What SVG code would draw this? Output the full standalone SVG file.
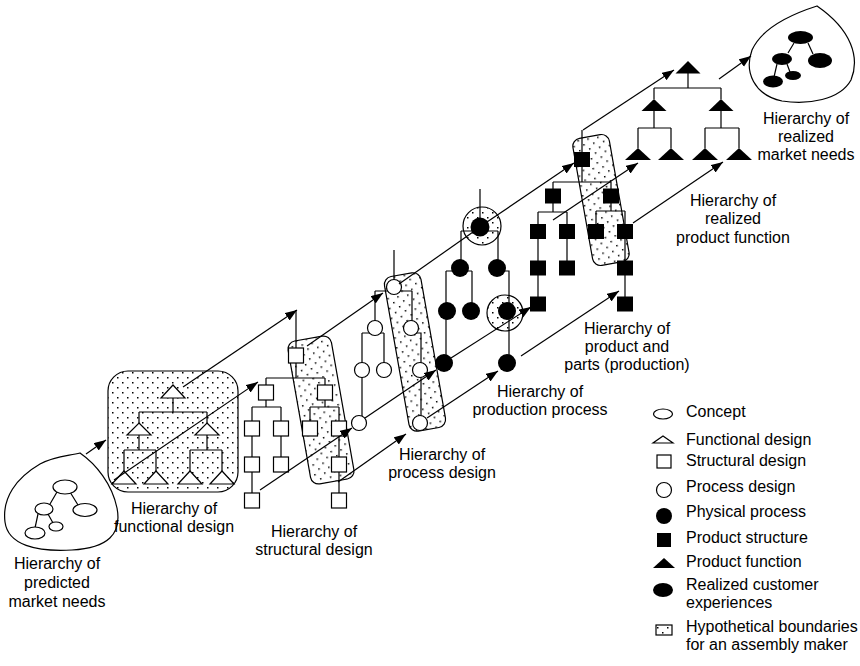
<svg xmlns="http://www.w3.org/2000/svg" width="860" height="666" viewBox="0 0 860 666">
  <style>
    .ln { stroke: #000; stroke-width: 1.2; fill: none; }
    .o { fill: #fff; stroke: #000; stroke-width: 1.2; }
    .f { fill: #000; stroke: none; }
    .dot { fill: url(#dots); stroke: #000; stroke-width: 1.2; }
    .arr { stroke: #000; stroke-width: 1.2; fill: none; marker-end: url(#head); }
    text { font-family: "Liberation Sans", Arial, Helvetica, sans-serif; font-size: 16px; fill: #000; }
    .c { text-anchor: middle; }
  </style>
  <defs>
    <pattern id="dots" width="10" height="10" patternUnits="userSpaceOnUse">
      <rect width="10" height="10" fill="#fff"/>
      <rect x="2" y="2" width="1.5" height="1.5" fill="#000"/>
      <rect x="7" y="7" width="1.5" height="1.5" fill="#000"/>
    </pattern>
    <marker id="head" markerUnits="userSpaceOnUse" markerWidth="13" markerHeight="10" refX="12" refY="4.5" orient="auto">
      <path d="M0,0 L12,4.5 L0,9 Z" fill="#000"/>
    </marker>
  </defs>

  <rect width="860" height="666" fill="#fff"/>

  <!-- predicted market needs -->
  <g id="predicted-needs">
    <path class="ln" d="M80,453 C96,464 112,484 117,508 C122,534 108,548 72,550 C36,552 8,545 5,522 C2,498 16,478 40,464 C55,456 68,456 80,453 Z"/>
    <path class="ln" d="M57,492 L50,504 M70,492 L78,505 M38,514 L35,528 M48,514 L53,523"/>
    <ellipse class="o" cx="65" cy="487" rx="12" ry="7"/>
    <ellipse class="o" cx="44" cy="509" rx="9" ry="6"/>
    <ellipse class="o" cx="85" cy="510" rx="12" ry="6.5"/>
    <ellipse class="o" cx="35" cy="533" rx="10" ry="6"/>
    <ellipse class="o" cx="56" cy="526.5" rx="7" ry="4.5"/>
    <text class="c" x="57" y="569">Hierarchy of</text>
    <text class="c" x="57" y="588">predicted</text>
    <text class="c" x="57" y="607">market needs</text>
  </g>

  <!-- functional design -->
  <g id="functional-design">
    <rect class="dot" x="108" y="371" width="130" height="121" rx="20"/>
    <path class="ln" d="M173,398 V412 M139,412 H207 M139,412 V423 M207,412 V423
      M139,435 V450 M124,450 H156 M124,450 V471 M156,450 V471
      M207,435 V450 M190,450 H222 M190,450 V471 M222,450 V471"/>
    <path class="o" d="M173,385 L185,398 L161,398 Z"/>
    <path class="o" d="M139,423 L151,435 L127,435 Z"/>
    <path class="o" d="M207,423 L219,435 L195,435 Z"/>
    <path class="o" d="M124,471 L136,484 L112,484 Z"/>
    <path class="o" d="M156,471 L168,484 L144,484 Z"/>
    <path class="o" d="M190,471 L202,484 L178,484 Z"/>
    <path class="o" d="M222,471 L234,484 L210,484 Z"/>
    <text class="c" x="174" y="514">Hierarchy of</text>
    <text class="c" x="174" y="532">functional design</text>
  </g>

  <!-- structural design -->
  <g id="structural-design">
    <rect class="dot" x="-22" y="-72.5" width="44" height="145" rx="8" transform="translate(321 410) rotate(-10)"/>
    <path class="ln" d="M296,310 V348 M296,363 V378 M266,378 H325 M266,378 V385 M325,378 V385
      M266,400 V407 M252,407 H281 M252,407 V421 M281,407 V421
      M325,400 V407 M310,407 H339 M310,407 V421 M339,407 V421
      M252,436 V457 M252,472 V493 M281,436 V457 M339,436 V457 M339,472 V493"/>
    <rect class="o" x="288.5" y="348" width="15" height="15"/>
    <rect class="o" x="258.5" y="385" width="15" height="15"/>
    <rect class="o" x="317.5" y="385" width="15" height="15"/>
    <rect class="o" x="244.5" y="421" width="15" height="15"/>
    <rect class="o" x="273.5" y="421" width="15" height="15"/>
    <rect class="o" x="302.5" y="421" width="15" height="15"/>
    <rect class="o" x="331.5" y="421" width="15" height="15"/>
    <rect class="o" x="244.5" y="457" width="15" height="15"/>
    <rect class="o" x="273.5" y="457" width="15" height="15"/>
    <rect class="o" x="331.5" y="457" width="15" height="15"/>
    <rect class="o" x="244.5" y="493" width="15" height="15"/>
    <rect class="o" x="331.5" y="493" width="15" height="15"/>
    <text class="c" x="314" y="537">Hierarchy of</text>
    <text class="c" x="314" y="555">structural design</text>
  </g>

  <!-- process design -->
  <g id="process-design">
    <rect class="dot" x="-18.5" y="-78.5" width="37" height="157" rx="8" transform="translate(415 352) rotate(-10)"/>
    <path class="ln" d="M394,250 V280 M375,291 H412 M375,291 V321 M412,291 V321
      M362,333 H384 M362,333 V423 M384,333 V370
      M411,333 H421 V423"/>
    <circle class="o" cx="394" cy="287" r="7.5"/>
    <circle class="o" cx="375" cy="328" r="7.5"/>
    <circle class="o" cx="411" cy="328" r="7.5"/>
    <circle class="o" cx="362" cy="370" r="7.5"/>
    <circle class="o" cx="384" cy="370" r="7.5"/>
    <circle class="o" cx="420" cy="370" r="7.5"/>
    <circle class="o" cx="359" cy="423" r="7.5"/>
    <circle class="o" cx="420" cy="423" r="7.5"/>
    <text class="c" x="442" y="460">Hierarchy of</text>
    <text class="c" x="442" y="478">process design</text>
  </g>

  <!-- physical (production) process -->
  <g id="production-process">
    <circle class="dot" cx="482" cy="226" r="19"/>
    <circle class="dot" cx="505" cy="313" r="18"/>
    <path class="ln" d="M480,189 V218 M461,231 H498 M461,231 V260 M498,231 V260
      M446,271 H472 M446,271 V363 M472,271 V311
      M497,271 H509 V363"/>
    <circle class="f" cx="480" cy="227" r="9.5"/>
    <circle class="f" cx="460" cy="268" r="9"/>
    <circle class="f" cx="497" cy="268" r="9"/>
    <circle class="f" cx="447" cy="311" r="9"/>
    <circle class="f" cx="471" cy="311" r="9"/>
    <circle class="f" cx="507" cy="311" r="9"/>
    <circle class="f" cx="444" cy="363" r="9"/>
    <circle class="f" cx="507" cy="363" r="9"/>
    <text class="c" x="540" y="397">Hierarchy of</text>
    <text class="c" x="540" y="415">production process</text>
  </g>

  <!-- product structure (product and parts) -->
  <g id="product-structure">
    <rect class="dot" x="-18.5" y="-64.5" width="37" height="129" rx="8" transform="translate(601 200) rotate(-10)"/>
    <path class="ln" d="M582,130 V152 M582,167 V182 M553,182 H611 M553,182 V189 M611,182 V189
      M538,212 H567 M553,203 V212 M538,212 V304 M567,212 V268
      M596,211 H625 M611,203 V211 M596,211 V224 M625,211 V304"/>
    <rect class="f" x="574" y="152" width="16" height="15"/>
    <rect class="f" x="545" y="188.5" width="16" height="15"/>
    <rect class="f" x="603" y="188.5" width="16" height="15"/>
    <rect class="f" x="530" y="224" width="16" height="15"/>
    <rect class="f" x="559" y="224" width="16" height="15"/>
    <rect class="f" x="588" y="224" width="16" height="15"/>
    <rect class="f" x="617" y="224" width="16" height="15"/>
    <rect class="f" x="530" y="260.5" width="16" height="15"/>
    <rect class="f" x="559" y="260.5" width="16" height="15"/>
    <rect class="f" x="617" y="260.5" width="16" height="15"/>
    <rect class="f" x="530" y="296.5" width="16" height="15"/>
    <rect class="f" x="617" y="296.5" width="16" height="15"/>
    <text class="c" x="627" y="334">Hierarchy of</text>
    <text class="c" x="627" y="352">product and</text>
    <text class="c" x="627" y="370">parts (production)</text>
  </g>

  <!-- product function -->
  <g id="product-function">
    <path class="ln" d="M688,73 V88 M654,88 H721 M654,88 V99 M721,88 V99
      M654,111 V128 M638,128 H671 M638,128 V148 M671,128 V148
      M721,111 V128 M705,128 H739 M705,128 V148 M739,128 V148"/>
    <path class="f" d="M688,61 L700.5,73.5 L675.5,73.5 Z"/>
    <path class="f" d="M654,99 L666.5,111 L641.5,111 Z"/>
    <path class="f" d="M721,99 L733.5,111 L708.5,111 Z"/>
    <path class="f" d="M638,148 L651,160 L625,160 Z"/>
    <path class="f" d="M671,148 L684,160 L658,160 Z"/>
    <path class="f" d="M705,148 L718,160 L692,160 Z"/>
    <path class="f" d="M739,148 L752,160 L726,160 Z"/>
    <text class="c" x="733" y="206">Hierarchy of</text>
    <text class="c" x="733" y="224">realized</text>
    <text class="c" x="733" y="243">product function</text>
  </g>

  <!-- realized market needs -->
  <g id="realized-needs">
    <path class="ln" d="M817,6 C792,14 762,28 752,50 C744,72 754,95 782,101 C808,105 840,100 851,80 C860,58 852,30 817,6 Z"/>
    <path class="ln" d="M794,43 L788,53 M808,43 L813,54 M777,64 L774,77 M787,64 L790,72"/>
    <ellipse class="f" cx="800.5" cy="37.5" rx="12.5" ry="6.5"/>
    <ellipse class="f" cx="782" cy="59" rx="10" ry="6"/>
    <ellipse class="f" cx="820" cy="60.5" rx="12" ry="7.5"/>
    <ellipse class="f" cx="773" cy="81.5" rx="10" ry="6"/>
    <ellipse class="f" cx="793" cy="75.5" rx="8" ry="4.5"/>
    <text class="c" x="806" y="124">Hierarchy of</text>
    <text class="c" x="806" y="142">realized</text>
    <text class="c" x="806" y="160">market needs</text>
  </g>

  <!-- connectors between successive hierarchies -->
  <g id="connectors">
    <path class="arr" d="M86,454 L106,440"/>
    <path class="arr" d="M183,387 L297,310"/>
    <path class="arr" d="M114,480 L258,382"/>
    <path class="arr" d="M307,346 L383,293"/>
    <path class="arr" d="M260,490 L352,428"/>
    <path class="arr" d="M338,482 L406,434"/>
    <path class="ln" d="M399,284 L473,232"/>
    <path class="arr" d="M365,418 L436,370"/>
    <path class="arr" d="M427,418 L498,371"/>
    <path class="arr" d="M487,222 L574,163"/>
    <path class="arr" d="M451,358 L531,307"/>
    <path class="arr" d="M521,356 L619,291"/>
    <path class="arr" d="M583,130 L674,70"/>
    <path class="arr" d="M553,220 L638,163"/>
    <path class="arr" d="M633,223 L723,162"/>
    <path class="arr" d="M719,79 L751,56"/>
  </g>

  <!-- legend -->
  <g id="legend">
    <ellipse class="o" cx="663" cy="414" rx="9.5" ry="5"/>
    <text x="686" y="417">Concept</text>
    <path class="o" d="M663,436 L673,443 L653,443 Z"/>
    <text x="686" y="445">Functional design</text>
    <rect class="o" x="657" y="455" width="14" height="13"/>
    <text x="686" y="466">Structural design</text>
    <circle class="o" cx="664" cy="490" r="7.5"/>
    <text x="686" y="492">Process design</text>
    <circle class="f" cx="664" cy="516" r="8"/>
    <text x="686" y="517">Physical process</text>
    <rect class="f" x="657" y="533" width="14" height="14"/>
    <text x="686" y="543">Product structure</text>
    <path class="f" d="M664,558 L675,568 L653,568 Z"/>
    <text x="686" y="567">Product function</text>
    <ellipse class="f" cx="663" cy="590" rx="10" ry="7"/>
    <text x="686" y="590">Realized customer</text>
    <text x="686" y="608">experiences</text>
    <rect class="dot" x="656" y="625" width="16" height="10"/>
    <text x="686" y="632">Hypothetical boundaries</text>
    <text x="686" y="650">for an assembly maker</text>
  </g>
</svg>
